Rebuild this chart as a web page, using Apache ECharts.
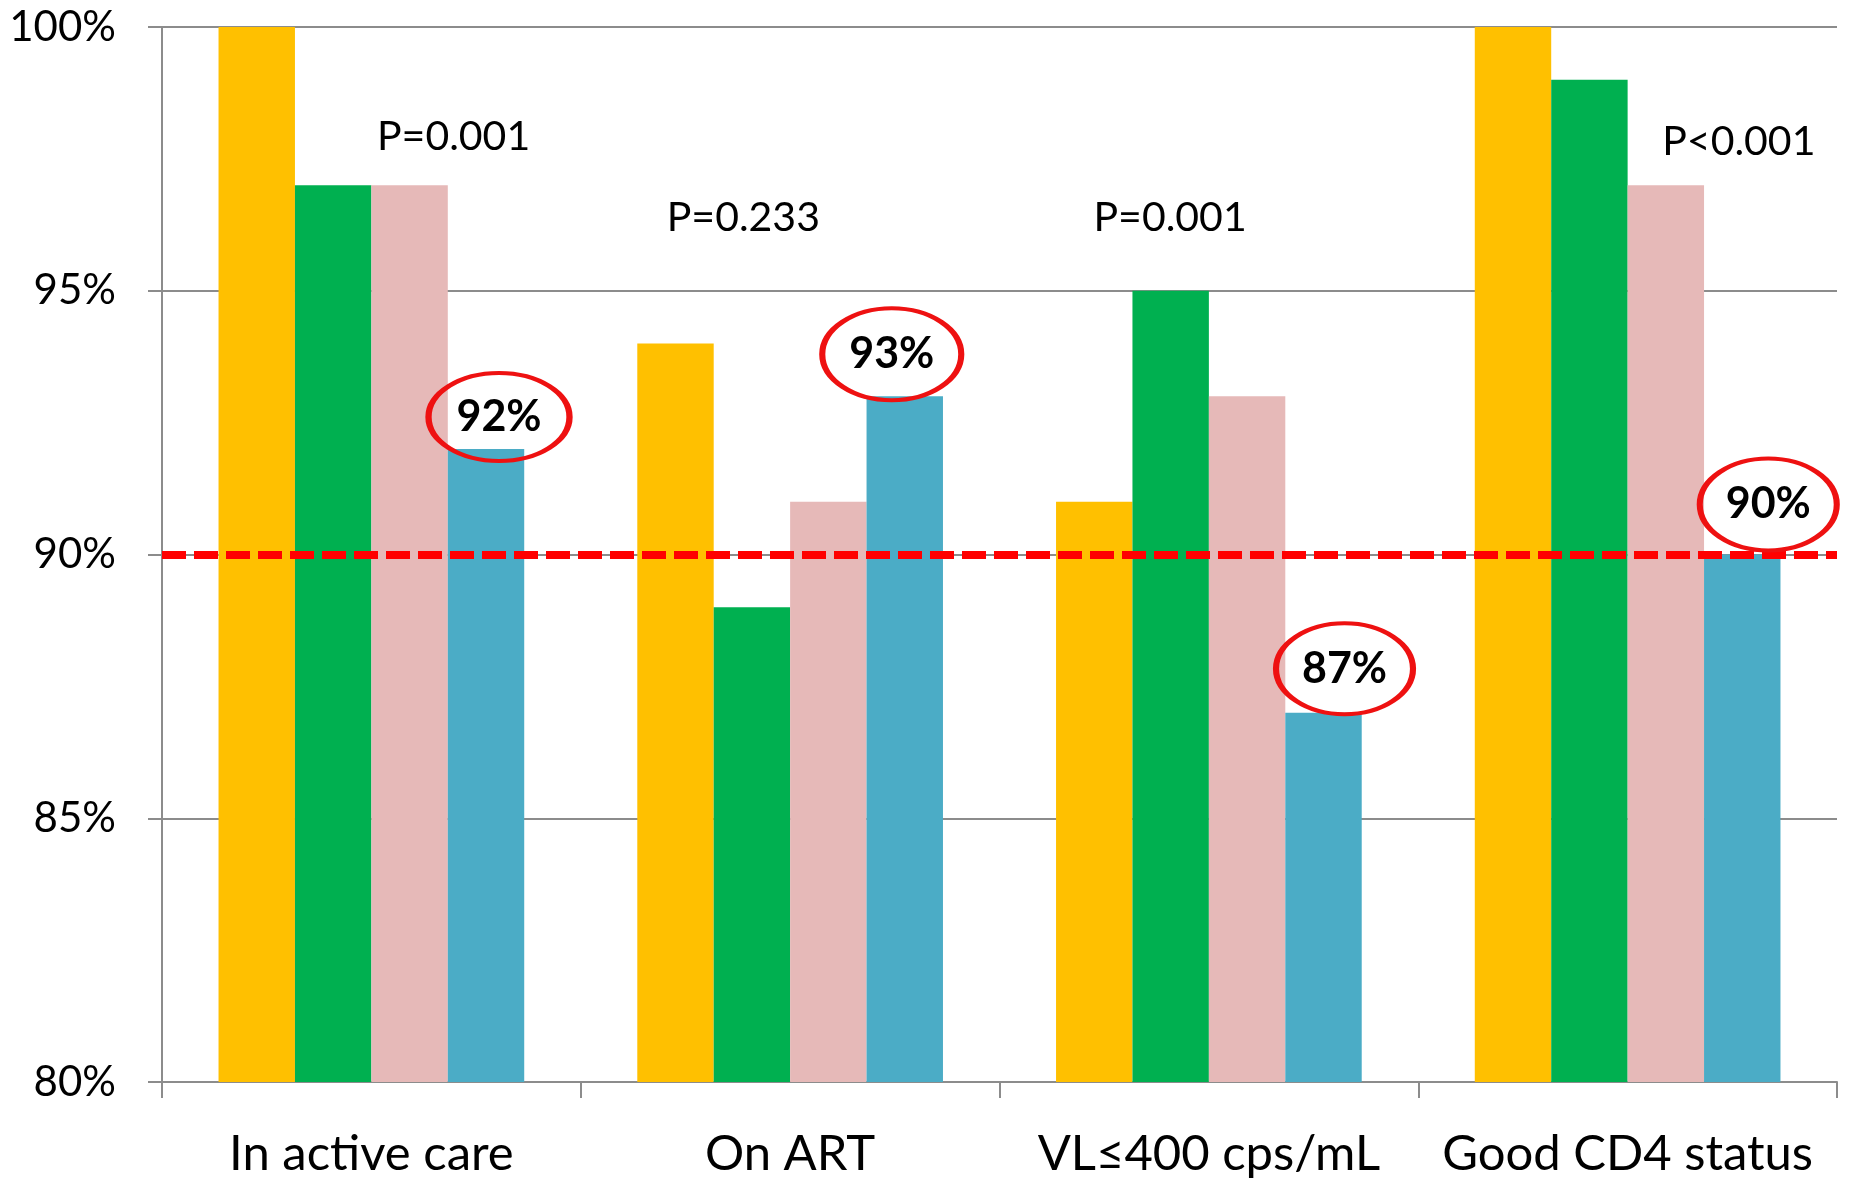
<!DOCTYPE html>
<html>
<head>
<meta charset="utf-8">
<script src="https://cdn.jsdelivr.net/npm/echarts@6/dist/echarts.min.js"></script>
<style>
html,body{margin:0;padding:0;background:#fff;}
#chart{width:1849px;height:1179px;}
</style>
</head>
<body>
<div id="chart"></div>
<script>
// ---- data ----
const categories = ['In active care', 'On ART', 'VL\u2264400 cps/mL', 'Good CD4 status'];
const seriesYellow = [100, 94, 91, 100];
const seriesGreen  = [97, 89, 95, 99];
const seriesPink   = [97, 91, 93, 97];
const seriesBlue   = [92, 93, 87, 90];
const yMin = 80, yMax = 100, yStep = 5;
const targetLevel = 90;
const pValueTexts = ['P=0.001', 'P=0.233', 'P=0.001', 'P<0.001'];
const highlightTexts = ['92%', '93%', '87%', '90%'];

// ---- annotation layout (style, not data) ----
const pLevel = [97.92, 96.38, 96.38, 97.83];
const pShiftX = [44, -85, -77, 73];
const ellipseShift = [[13, -32], [-13, -42], [21, -44], [26, -50]];
const ellipseSize = [[141, 88], [139, 92], [137, 91], [137, 92]];

const FONT = 'Lato, "Open Sans", sans-serif';
const ELLIPSE = 'path://M0,50 C0,22.4 22.4,0 50,0 C77.6,0 100,22.4 100,50 C100,77.6 77.6,100 50,100 C22.4,100 0,77.6 0,50 Z';

const chart = echarts.init(document.getElementById('chart'), null, {renderer: 'canvas'});

function bar(name, data, color) {
  return {
    name: name, type: 'bar', data: data,
    barGap: '0%', barCategoryGap: '27%',
    itemStyle: {color: color},
    emphasis: {disabled: true},
    silent: true
  };
}

const sYellow = bar('A', seriesYellow, '#FFC000');
const sGreen = bar('B', seriesGreen, '#00B050');
const sPink = bar('C', seriesPink, '#E6B9B8');
const sBlue = bar('D', seriesBlue, '#4BACC6');

sPink.markPoint = {
  silent: true,
  data: categories.map((c, i) => ({
    coord: [c, pLevel[i]],
    symbol: 'rect', symbolSize: 1,
    symbolOffset: [pShiftX[i], 0],
    itemStyle: {color: 'rgba(0,0,0,0)'},
    label: {show: true, position: 'inside', formatter: pValueTexts[i],
            color: '#000', fontSize: 41, fontFamily: FONT}
  }))
};

sBlue.markPoint = {
  silent: true,
  data: categories.map((c, i) => ({
    coord: [c, seriesBlue[i]],
    symbol: ELLIPSE, symbolSize: ellipseSize[i], symbolKeepAspect: false,
    symbolOffset: ellipseShift[i],
    itemStyle: {color: 'rgba(0,0,0,0)', borderColor: '#EE1111', borderWidth: 5},
    label: {show: true, position: 'inside', formatter: highlightTexts[i],
            color: '#000', fontSize: 43, fontWeight: 'bold', fontFamily: FONT}
  }))
};

sBlue.markLine = {
  silent: true, symbol: 'none',
  label: {show: false},
  lineStyle: {color: '#FF0000', width: 8, type: [24, 8]},
  data: [{yAxis: targetLevel}]
};
sBlue.z = 2;

chart.setOption({
  animation: false,
  backgroundColor: '#fff',
  grid: {left: 162, right: 12, top: 27, bottom: 97, containLabel: false},
  xAxis: {
    type: 'category', data: categories,
    axisLine: {lineStyle: {color: '#8C8C8C', width: 2}},
    axisTick: {show: true, interval: 0, length: 16, lineStyle: {color: '#8C8C8C', width: 2}},
    axisLabel: {color: '#000', fontSize: 49, fontFamily: FONT, margin: 48, interval: 0,
                hideOverlap: false}
  },
  yAxis: {
    type: 'value', min: yMin, max: yMax, interval: yStep,
    axisLine: {show: true, lineStyle: {color: '#8C8C8C', width: 2}},
    axisTick: {show: true, length: 14, lineStyle: {color: '#8C8C8C', width: 2}},
    splitLine: {lineStyle: {color: '#8C8C8C', width: 2}},
    axisLabel: {color: '#000', fontSize: 42, fontFamily: FONT, margin: 46,
                formatter: '{value}%'}
  },
  series: [sYellow, sGreen, sPink, sBlue]
});
</script>
</body>
</html>
